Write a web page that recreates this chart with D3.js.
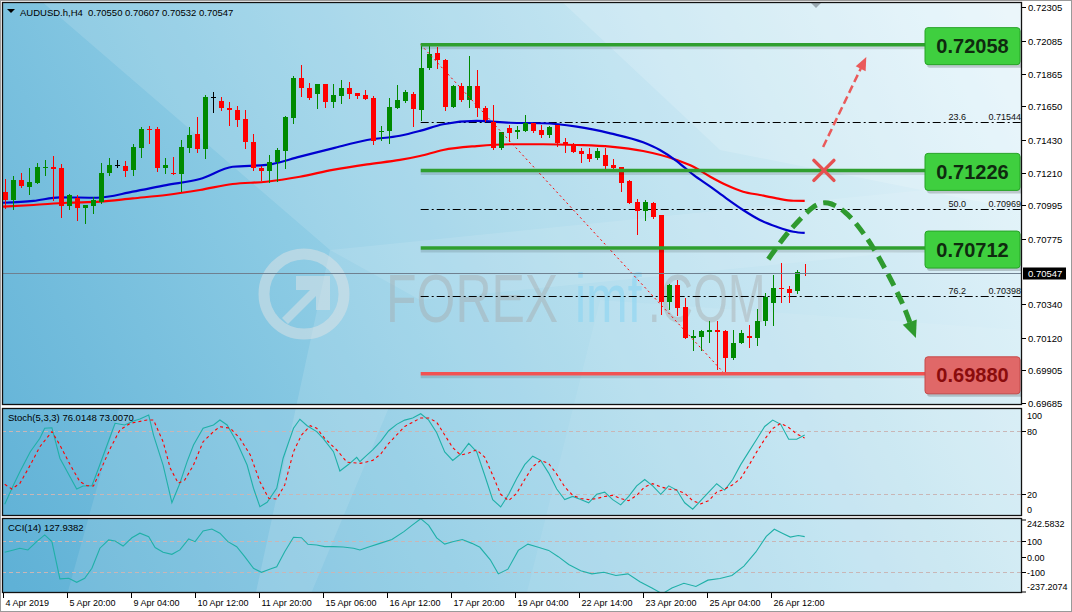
<!DOCTYPE html>
<html><head><meta charset="utf-8">
<script src="https://cdn.jsdelivr.net/npm/d3@7"></script>
<style>html,body{margin:0;padding:0;background:#fff;}svg{display:block;font-family:"Liberation Sans",Arial,sans-serif;}</style>
</head><body><svg id="c" width="1072" height="612"></svg>
<script>
// ---------------- DATA ----------------
const symbolTitle = "AUDUSD.h,H4  0.70550 0.70607 0.70532 0.70547";
const opens = [.71084,.71029,.71161,.71117,.71144,.71241,.71247,.71241,.70991,.71040,.70978,.70991,.71018,.71212,.71260,.71254,.71230,.71375,.71503,.71499,.71243,.71212,.71199,.71375,.71464,.71367,.71711,.71684,.71640,.71625,.71565,.71411,.71239,.71225,.71283,.71353,.71574,.71835,.71773,.71729,.71795,.71676,.71720,.71768,.71735,.71724,.71702,.71484,.71486,.71640,.71684,.71729,.71625,.71901,.72001,.71956,.71647,.71787,.71692,.71787,.71641,.71544,.71372,.71504,.71478,.71486,.71537,.71493,.71460,.71526,.71411,.71394,.71354,.71336,.71306,.71328,.71261,.71248,.71158,.71014,.70957,.71010,.70930,.70356,.70471,.70322,.70120,.70125,.70158,.70171,.70162,.69986,.70087,.70129,.70118,.70228,.70350,.70451,.70438,.70427,.70550];
const highs = [.71168,.71188,.71206,.71239,.71272,.71294,.71323,.71267,.71070,.71066,.71000,.71051,.71278,.71305,.71292,.71287,.71398,.71514,.71519,.71514,.71309,.71314,.71426,.71514,.71579,.71724,.71746,.71711,.71680,.71654,.71625,.71466,.71254,.71331,.71371,.71585,.71852,.71923,.71801,.71797,.71799,.71795,.71821,.71812,.71737,.71757,.71720,.71519,.71707,.71790,.71755,.71746,.72058,.72051,.72040,.71963,.71790,.71802,.71983,.71890,.71654,.71659,.71482,.71526,.71522,.71592,.71540,.71526,.71522,.71528,.71438,.71405,.71376,.71372,.71372,.71376,.71301,.71250,.71160,.71036,.71031,.71019,.70934,.70475,.70500,.70379,.70169,.70169,.70228,.70228,.70169,.70169,.70169,.70202,.70312,.70412,.70533,.70610,.70462,.70566,.70607];
const lows = [.70974,.70969,.71117,.71069,.71140,.71195,.71029,.70919,.70969,.70897,.70875,.70945,.71007,.71195,.71250,.71190,.71195,.71316,.71409,.71221,.71212,.71199,.71089,.71349,.71349,.71309,.71614,.71623,.71526,.71521,.71375,.71228,.71161,.71150,.71155,.71239,.71539,.71720,.71700,.71636,.71647,.71647,.71669,.71702,.71702,.71698,.71398,.71426,.71404,.71636,.71680,.71521,.71559,.71895,.71906,.71625,.71645,.71687,.71647,.71588,.71553,.71367,.71367,.71422,.71442,.71484,.71482,.71447,.71449,.71389,.71345,.71345,.71283,.71288,.71301,.71222,.71222,.71089,.71010,.70804,.70897,.70913,.70273,.70308,.70268,.70116,.70036,.70036,.70092,.69915,.69880,.69977,.70081,.70059,.70070,.70202,.70202,.70356,.70356,.70418,.70532];
const closes = [.71029,.71161,.71122,.71148,.71247,.71250,.71234,.70991,.71066,.70978,.70996,.71029,.71212,.71261,.71260,.71223,.71380,.71499,.71495,.71239,.71261,.71203,.71380,.71459,.71367,.71711,.71711,.71636,.71623,.71559,.71411,.71239,.71225,.71283,.71358,.71579,.71839,.71768,.71702,.71795,.71680,.71724,.71768,.71729,.71720,.71700,.71420,.71488,.71645,.71691,.71746,.71629,.71906,.71994,.71956,.71647,.71787,.71692,.71787,.71636,.71559,.71372,.71478,.71473,.71493,.71537,.71486,.71460,.71515,.71405,.71394,.71350,.71332,.71301,.71356,.71257,.71244,.71144,.71012,.70957,.71014,.70917,.70356,.70471,.70317,.70118,.70129,.70162,.70173,.70158,.69986,.70087,.70153,.70114,.70228,.70390,.70449,.70440,.70412,.70551,.70547];

// moving averages: [bar index, price]
const maBlue = [[-0.2,.71012],[3.6,.71024],[6.9,.71048],[11.5,.71045],[16,.71085],[20.2,.71129],[24.4,.71169],[28.5,.71250],[32.7,.71262],[36.9,.71317],[41,.71372],[45.3,.71427],[49.4,.71455],[51.9,.71487],[54.8,.71531],[59,.71553],[63.2,.71541],[67.3,.71538],[71.5,.71515],[75.7,.71471],[79.8,.71412],[81.9,.71361],[84,.71288],[86.1,.71196],[88.2,.71118],[90.2,.71041],[92.3,.70964],[94.4,.70898],[96.5,.70853],[98.6,.70820],[100,.70812]];
const maRed = [[-0.2,.70986],[3.6,.70997],[7.8,.71012],[11.9,.71019],[16,.71041],[20.2,.71063],[24.4,.71096],[28.5,.71136],[32.7,.71151],[36.9,.71184],[41,.71229],[45.3,.71266],[49.4,.71295],[51.9,.71321],[54.8,.71361],[59,.71387],[63.2,.71399],[67.3,.71399],[71.5,.71394],[75.7,.71383],[79.8,.71354],[84,.71295],[86.1,.71250],[88.2,.71184],[90.2,.71129],[92.3,.71085],[94.4,.71063],[96.5,.71041],[98.6,.71025],[100,.71024]];

const priceTicks = [0.72305,0.72085,0.71865,0.71650,0.71430,0.71210,0.70995,0.70775,0.70340,0.70120,0.69905,0.69685];
const lastPrice = 0.70547;

const levelPrices = [0.72058,0.71226,0.70712,0.69880];
const levelKinds = ["up","up","up","down"];
const levelStartBar = 52;
const fibRatios = ["23.6","50.0","76.2"];
const fibPrices = [0.71544,0.70969,0.70398];
const fibTrend = [[52,0.72058],[90,0.69880]];

// annotation shapes in chart space: [bar index, price]
const redArrow = [[102.3,0.71381],[107.7,0.71976]];
const redCross = [102.4,0.71226];
const greenPath = [[95.45,.70638],[98.2,.70832],[101.5,.70997],[102.9,.71010],[105,.70951],[107.5,.70798],[110,.70580],[112.3,.70335]];
const greenTip = [113.9,0.70117];

const timeLabels = ["4 Apr 2019","5 Apr 20:00","9 Apr 04:00","10 Apr 12:00","11 Apr 20:00","15 Apr 06:00","16 Apr 12:00","17 Apr 20:00","19 Apr 04:00","22 Apr 14:00","23 Apr 20:00","25 Apr 04:00","26 Apr 12:00"];
const timeLabelBars = [0,8,16,24,32,40,48,56,64,72,80,88,96];

const stochTitle = "Stoch(5,3,3) 76.0148 73.0070";
const stochK = [[0,10.6],[1.1,28.8],[1.9,41.3],[3.2,60.2],[4.4,72.8],[5,82.3],[5.9,82.8],[6.9,54],[9,25],[9.8,27.8],[10.9,28.1],[11.5,39.8],[12.8,66.5],[13.8,87],[15,85.4],[16.1,89.2],[16.9,91],[18,94.8],[18.6,75.9],[19.8,47.6],[20.9,12.1],[21.9,30.4],[22.8,50.8],[23.6,66.5],[24.8,82.3],[26.1,85.4],[26.9,90.1],[27.8,85.4],[29,69.6],[30.3,47.6],[31.1,25.7],[31.9,8.3],[32.8,12.5],[34,25.7],[34.8,54],[36.1,82.3],[36.9,90.8],[37.8,84.7],[39,79.1],[39.8,72.8],[41.1,60.2],[41.9,42],[43,48.3],[44,54.9],[44.4,50.8],[45,55],[46,62],[47,70],[48,80],[49,86],[50,90],[51,92],[52,96],[53,90],[54,78],[55,60],[56,52],[57,58],[58,68],[59,60],[60,38],[61,15],[62,8],[63,20],[64,35],[65,48],[66,56],[67,52],[68,40],[69,25],[70,15],[71,18],[72,15],[73,12],[74,20],[75,22],[76,15],[77,10],[78,18],[79,28],[80,34],[81,28],[82,20],[83,28],[84,24],[85,12],[86,6],[87,14],[88,22],[89,30],[90,24],[91,34],[92,48],[93,60],[94,72],[95,84],[96,90],[97,86],[98,72],[99,72],[100,76.0148]];
const stochD = [[0,29.4],[0.9,25],[1.9,30.4],[3.2,47.6],[4.4,64.9],[5.9,79.1],[6.9,66.5],[8.2,47.6],[9.4,31.9],[10.3,28.1],[11.1,27.8],[11.9,41.3],[13.2,63.4],[14.4,80.7],[15.7,87],[17.8,90.1],[18.6,90.1],[19.8,69.6],[20.7,44.5],[21.7,30.4],[22.5,33.5],[23.6,47.6],[24.8,69.6],[26.1,79.1],[26.9,83.8],[28.2,82.3],[29.4,72.8],[30.7,57.1],[31.9,31.9],[33,16.2],[34,15.6],[35,28.8],[36.1,60.2],[37.1,75.9],[38.2,84.7],[39,82.3],[40,72.8],[41.5,61.8],[42.8,50.2],[44.4,49.2],[45,50],[46,52],[47,58],[48,68],[49,76],[50,84],[51,88],[52,92],[53,92],[54,88],[55,76],[56,64],[57,57],[58,59],[59,62],[60,55],[61,38],[62,20],[63,14],[64,21],[65,34],[66,46],[67,52],[68,49],[69,39],[70,27],[71,19],[72,16],[73,15],[74,16],[75,18],[76,19],[77,16],[78,14],[79,19],[80,27],[81,30],[82,27],[83,25],[84,24],[85,21],[86,14],[87,11],[88,14],[89,22],[90,25],[91,29],[92,35],[93,47],[94,60],[95,72],[96,82],[97,87],[98,83],[99,77],[100,73.007]];
const stochLevels = [80,20];
const stochTicks = [100,80,20,0];

const cciTitle = "CCI(14) 127.9382";
const cciVals = [[0,28],[1.1,43],[1.9,54],[2.9,43],[4,96],[5,139],[5.9,96],[6.9,-142],[8,-138],[9,-164],[10,-138],[10.9,-74],[11.9,54],[13,107],[13.8,100],[14.8,68],[15.9,121],[16.9,150],[18,128],[18.8,58],[19.8,28],[20.9,15],[21.9,43],[23,113],[23.8,96],[24.8,164],[25.9,177],[26.9,150],[27.9,96],[29,64],[30,0],[31.1,-74],[32.1,-100],[33.2,-79],[34,-64],[35,32],[36.1,124],[37.1,121],[37.9,79],[39,75],[40,64],[41.1,64],[42.3,62],[43.6,54],[44.4,43],[45.4,60],[46.9,85],[48.4,110],[49.9,160],[50.9,200],[52,242.5832],[53,200],[54,120],[55,80],[56,95],[57.2,110],[58.4,85],[59.4,60],[60.7,-20],[61.7,-110],[62.9,-80],[64.2,40],[65.4,80],[66.7,60],[68,40],[69.2,0],[70.5,-50],[72,-90],[73.4,-110],[74.9,-100],[76.4,-120],[77.9,-110],[79.4,-160],[80.9,-200],[82.2,-237.2074],[83.4,-200],[84.9,-170],[86.4,-190],[87.9,-150],[89.4,-140],[90.9,-120],[92.4,-60],[93.9,30],[95.2,130],[96.2,175],[97.2,150],[98.2,125],[99.2,135],[100,127.9382]];
const cciLevels = [100,-100];
const cciTicks = [242.5832,100,0,-100,-237.2074];
const cciTickLabels = ["242.5832","100","0.00","-100","-237.2074"];

// ---------------- LAYOUT ----------------
const plotL = 2, plotR = 1022;
const mainP = {t:2, b:405};
const stochP = {t:408, b:516};
const cciP = {t:518, b:593};

const svg = d3.select("#c");
const defs = svg.append("defs");

const x = d3.scaleLinear().domain([0,100]).range([4.7,804.7]);
const y = d3.scaleLinear().domain([0.69685,0.72305]).range([403.3,7.3]);
const ys = d3.scaleLinear().domain([0,100]).range([515.5,409.5]);
const yc = d3.scaleLinear().domain([-237.2074,242.5832]).range([593.8,518.7]);

// background gradient
const gr = defs.append("linearGradient").attr("id","bg").attr("gradientUnits","userSpaceOnUse")
  .attr("x1",0).attr("y1",560).attr("x2",1020).attr("y2",40);
[[0,"#5fb1d6"],[0.35,"#8ccbe4"],[0.7,"#bde2f0"],[1,"#e4f4fa"]].forEach(([o,c])=>gr.append("stop").attr("offset",o).attr("stop-color",c));

svg.append("rect").attr("x",0.5).attr("y",0.5).attr("width",1071).attr("height",611).attr("fill","#fff").attr("stroke","#9a9a9a");

function panel(p, id){
  defs.append("clipPath").attr("id",id).append("rect").attr("x",plotL).attr("y",p.t).attr("width",plotR-plotL).attr("height",p.b-p.t);
  const g = svg.append("g").attr("clip-path",`url(#${id})`);
  g.append("rect").attr("x",plotL).attr("y",p.t).attr("width",plotR-plotL).attr("height",p.b-p.t).attr("fill","url(#bg)");
  const streaks = [
    {pts:[[40,0],[330,250],[250,620],[1022,620],[1022,0]], o:0.13},
    {pts:[[560,0],[1022,0],[1022,210],[720,150]], o:0.16},
    {pts:[[330,250],[420,300],[1022,240],[1022,180]], o:0.10},
    {pts:[[120,405],[390,405],[300,620],[60,620]], o:0.10},
    {pts:[[600,300],[1022,330],[1022,620],[520,620]], o:0.07}
  ];
  streaks.forEach(s=>g.append("polygon").attr("points",s.pts.map(d=>d.join(",")).join(" ")).attr("fill","#fff").attr("opacity",s.o));
  return g;
}
const gMain = panel(mainP,"cm");
const gSto = panel(stochP,"cs");
const gCci = panel(cciP,"cc");

// ---------------- MAIN PANEL ----------------
// watermark
const wm = gMain.append("g");
wm.append("circle").attr("cx",304).attr("cy",294).attr("r",40).attr("fill","none").attr("stroke","#dfe3e6").attr("stroke-width",11).attr("opacity",0.5);
wm.append("path").attr("d","M282,318 L310,290 L296,290 L296,276 L330,276 L330,310 L316,310 L316,296 L288,324 Z").attr("fill","#dfe3e6").attr("opacity",0.5);
[["FOREX",386,50,1.37,"#a4a4a4",0.4],["imf",575,50,1.37,"#86d4f2",0.55],[".COM",648,45,1.52,"#a4a4a4",0.4]].forEach(([t,x0,fs,sy,col,op])=>{
  wm.append("text").attr("transform",`translate(${x0},322) scale(1,${sy})`).attr("font-size",fs)
    .attr("fill",col).attr("fill-opacity",op).text(t);
});

// fib dash-dot lines
fibPrices.forEach((p,k)=>{
  const yy = Math.round(y(p))+0.5;
  gMain.append("line").attr("x1",x(levelStartBar)).attr("x2",plotR).attr("y1",yy).attr("y2",yy)
    .attr("stroke","#000").attr("stroke-width",1).attr("stroke-dasharray","8,3,2,3");
  gMain.append("text").attr("x",966).attr("y",yy-3).attr("text-anchor","end").attr("font-size",9).attr("fill","#111").text(fibRatios[k]);
  gMain.append("text").attr("x",1021).attr("y",yy-3).attr("text-anchor","end").attr("font-size",9).attr("fill","#111").text(p.toFixed(5));
});

// moving averages
const maLine = d3.line().x(d=>x(d[0])).y(d=>y(d[1])).curve(d3.curveMonotoneX);
gMain.append("path").attr("d",maLine(maRed)).attr("fill","none").attr("stroke","#ff0000").attr("stroke-width",2.2);
gMain.append("path").attr("d",maLine(maBlue)).attr("fill","none").attr("stroke","#0000d0").attr("stroke-width",2.2);

// candles
const gc = gMain.append("g");
opens.forEach((o,i)=>{
  const c = closes[i], h = highs[i], l = lows[i];
  const col = c>o ? "#008a00" : (c<o ? "#ff0000" : "#000000");
  const cx = Math.round(x(i));
  gc.append("line").attr("x1",cx+0.5).attr("x2",cx+0.5).attr("y1",Math.round(y(h))).attr("y2",Math.round(y(l))+1).attr("stroke",col).attr("stroke-width",1);
  const yt = Math.round(y(Math.max(o,c))), yb = Math.round(y(Math.min(o,c)));
  gc.append("rect").attr("x",cx-2).attr("y",yt).attr("width",5).attr("height",Math.max(1,yb-yt)).attr("fill",col);
});

// fib trend dotted
gMain.append("line").attr("x1",x(fibTrend[0][0])).attr("y1",y(fibTrend[0][1])).attr("x2",x(fibTrend[1][0])).attr("y2",y(fibTrend[1][1]))
  .attr("stroke","#ff0000").attr("stroke-width",1).attr("stroke-dasharray","2,3");

// level lines
const boxL = 925;
levelPrices.forEach((p,k)=>{
  const yy = y(p);
  const col = levelKinds[k]==="up" ? "#2f9f2f" : "#f25252";
  gMain.append("line").attr("x1",x(levelStartBar)).attr("x2",boxL).attr("y1",yy+3).attr("y2",yy+3).attr("stroke","#000").attr("stroke-opacity",0.12).attr("stroke-width",3);
  gMain.append("line").attr("x1",x(levelStartBar)).attr("x2",boxL).attr("y1",yy).attr("y2",yy).attr("stroke",col).attr("stroke-width",3.5);
});

// current price line
const yLast = Math.round(y(lastPrice))+0.5;
gMain.append("line").attr("x1",plotL).attr("x2",plotR).attr("y1",yLast).attr("y2",yLast).attr("stroke","#6f8090").attr("stroke-width",1);

// annotations
function head(g, from, tip, len, wid, col){
  const dx = tip[0]-from[0], dy = tip[1]-from[1], L = Math.hypot(dx,dy);
  const ux = dx/L, uy = dy/L, bx = tip[0]-ux*len, by = tip[1]-uy*len;
  g.append("polygon").attr("points",[[tip[0],tip[1]],[bx-uy*wid/2,by+ux*wid/2],[bx+uy*wid/2,by-ux*wid/2]].map(d=>d.join(",")).join(" ")).attr("fill",col);
  return [bx+ux*2,by+uy*2];
}
const ga = gMain.append("g");
{
  const a = [x(redArrow[0][0]),y(redArrow[0][1])], b = [x(redArrow[1][0]),y(redArrow[1][1])];
  const base = head(ga,a,b,13,11,"#ea5a5a");
  ga.append("line").attr("x1",a[0]).attr("y1",a[1]).attr("x2",base[0]).attr("y2",base[1]).attr("stroke","#ea5a5a").attr("stroke-width",2.5).attr("stroke-dasharray","8,4");
}
{
  const cx = x(redCross[0]), cy = y(redCross[1]), s = 10;
  ga.append("path").attr("d",`M${cx-s},${cy-s}L${cx+s},${cy+s}M${cx-s},${cy+s}L${cx+s},${cy-s}`).attr("stroke","#e65050").attr("stroke-width",3.5).attr("stroke-linecap","round");
}
{
  const pts = greenPath.map(d=>[x(d[0]),y(d[1])]);
  const tip = [x(greenTip[0]),y(greenTip[1])];
  const last = pts[pts.length-1];
  const base = head(ga,last,tip,17,15,"#2f9a2f");
  const all = pts.concat([base]);
  ga.append("path").attr("d",d3.line().curve(d3.curveCatmullRom)(all)).attr("fill","none").attr("stroke","#2f9a2f").attr("stroke-width",5).attr("stroke-dasharray","13,7");
}

// level boxes
levelPrices.forEach((p,k)=>{
  const yy = y(p)+1, up = levelKinds[k]==="up";
  const fill = up ? "#3fcf3f" : "#e06868", stroke = up ? "#27a327" : "#c64a4a", tc = up ? "#0f2a0f" : "#8a0c0c";
  gMain.append("rect").attr("x",boxL+2).attr("y",yy-18+3).attr("width",plotR-boxL).attr("height",37).attr("rx",3).attr("fill","#000").attr("opacity",0.18);
  gMain.append("rect").attr("x",boxL).attr("y",yy-18).attr("width",plotR-boxL-2).attr("height",37).attr("rx",3).attr("fill",fill).attr("stroke",stroke).attr("stroke-width",1);
  gMain.append("text").attr("x",(boxL+plotR)/2-1).attr("y",yy+7.5).attr("text-anchor","middle").attr("font-size",20).attr("font-weight","bold").attr("fill",tc).text(p.toFixed(5));
});

// header
gMain.append("polygon").attr("points","7,9 15,9 11,13").attr("fill","#000");
gMain.append("text").attr("x",20).attr("y",15.5).attr("font-size",9.5).attr("fill","#000").attr("xml:space","preserve").style("white-space","pre").text(symbolTitle);
svg.append("polygon").attr("points","811,3 821,3 816,8").attr("fill","#9aa8b0");

// ---------------- STOCH ----------------
stochLevels.forEach(v=>{
  const yy = Math.round(ys(v))+0.5;
  gSto.append("line").attr("x1",plotL).attr("x2",plotR).attr("y1",yy).attr("y2",yy).attr("stroke","#c9b6b6").attr("stroke-dasharray","4,3");
});
const sl = d3.line().x(d=>x(d[0])).y(d=>ys(d[1]));
gSto.append("path").attr("d",sl(stochK)).attr("fill","none").attr("stroke","#20b0a8").attr("stroke-width",1.1);
gSto.append("path").attr("d",sl(stochD)).attr("fill","none").attr("stroke","#ff0000").attr("stroke-width",1.1).attr("stroke-dasharray","3,3");
gSto.append("text").attr("x",8).attr("y",421).attr("font-size",9.5).attr("fill","#000").text(stochTitle);

// ---------------- CCI ----------------
cciLevels.forEach(v=>{
  const yy = Math.round(yc(v))+0.5;
  gCci.append("line").attr("x1",plotL).attr("x2",plotR).attr("y1",yy).attr("y2",yy).attr("stroke","#c9b6b6").attr("stroke-dasharray","4,3");
});
const cl = d3.line().x(d=>x(d[0])).y(d=>yc(d[1]));
gCci.append("path").attr("d",cl(cciVals)).attr("fill","none").attr("stroke","#20b0a8").attr("stroke-width",1.1);
gCci.append("text").attr("x",8).attr("y",531).attr("font-size",9.5).attr("fill","#000").text(cciTitle);

// panel borders
[mainP,stochP,cciP].forEach(p=>{
  svg.append("rect").attr("x",plotL+0.5).attr("y",p.t+0.5).attr("width",plotR-plotL-1).attr("height",p.b-p.t-1).attr("fill","none").attr("stroke","#111").attr("stroke-width",1.3);
});

// ---------------- AXES ----------------
const ax = svg.append("g").attr("font-size",9.5).attr("fill","#000");
priceTicks.forEach(p=>{
  const yy = Math.round(y(p))+0.5;
  ax.append("line").attr("x1",plotR).attr("x2",plotR+4).attr("y1",yy).attr("y2",yy).attr("stroke","#000");
  ax.append("text").attr("x",plotR+6).attr("y",yy).attr("dy","0.35em").text(p.toFixed(5));
});
ax.append("rect").attr("x",plotR+1).attr("y",yLast-6).attr("width",43).attr("height",12).attr("fill","#000");
ax.append("text").attr("x",plotR+6).attr("y",yLast).attr("dy","0.35em").attr("fill","#fff").text(lastPrice.toFixed(5));

const ax2 = svg.append("g").attr("font-size",9).attr("fill","#000");
stochTicks.forEach(v=>{
  const yy = Math.round(ys(v))+0.5;
  if (v!==100 && v!==0) ax2.append("line").attr("x1",plotR).attr("x2",plotR+4).attr("y1",yy).attr("y2",yy).attr("stroke","#000");
  ax2.append("text").attr("x",plotR+5).attr("y",Math.min(Math.max(yy,415.5),510)).attr("dy","0.35em").text(v);
});
cciTicks.forEach((v,k)=>{
  const yy = Math.round(yc(v))+0.5;
  const yt = Math.min(Math.max(yy,520),592);
  ax2.append("line").attr("x1",plotR).attr("x2",plotR+4).attr("y1",yt).attr("y2",yt).attr("stroke","#000");
  ax2.append("text").attr("x",plotR+5).attr("y",Math.min(Math.max(yy,524),587)).attr("dy","0.35em").text(cciTickLabels[k]);
});

const tx = svg.append("g").attr("font-size",9).attr("fill","#000");
timeLabelBars.forEach((b,k)=>{
  const xx = Math.round(x(b))-1.5;
  tx.append("line").attr("x1",xx).attr("x2",xx).attr("y1",cciP.b).attr("y2",cciP.b+5).attr("stroke","#000");
  tx.append("text").attr("x",xx+2).attr("y",606).text(timeLabels[k]);
});
</script></body></html>
